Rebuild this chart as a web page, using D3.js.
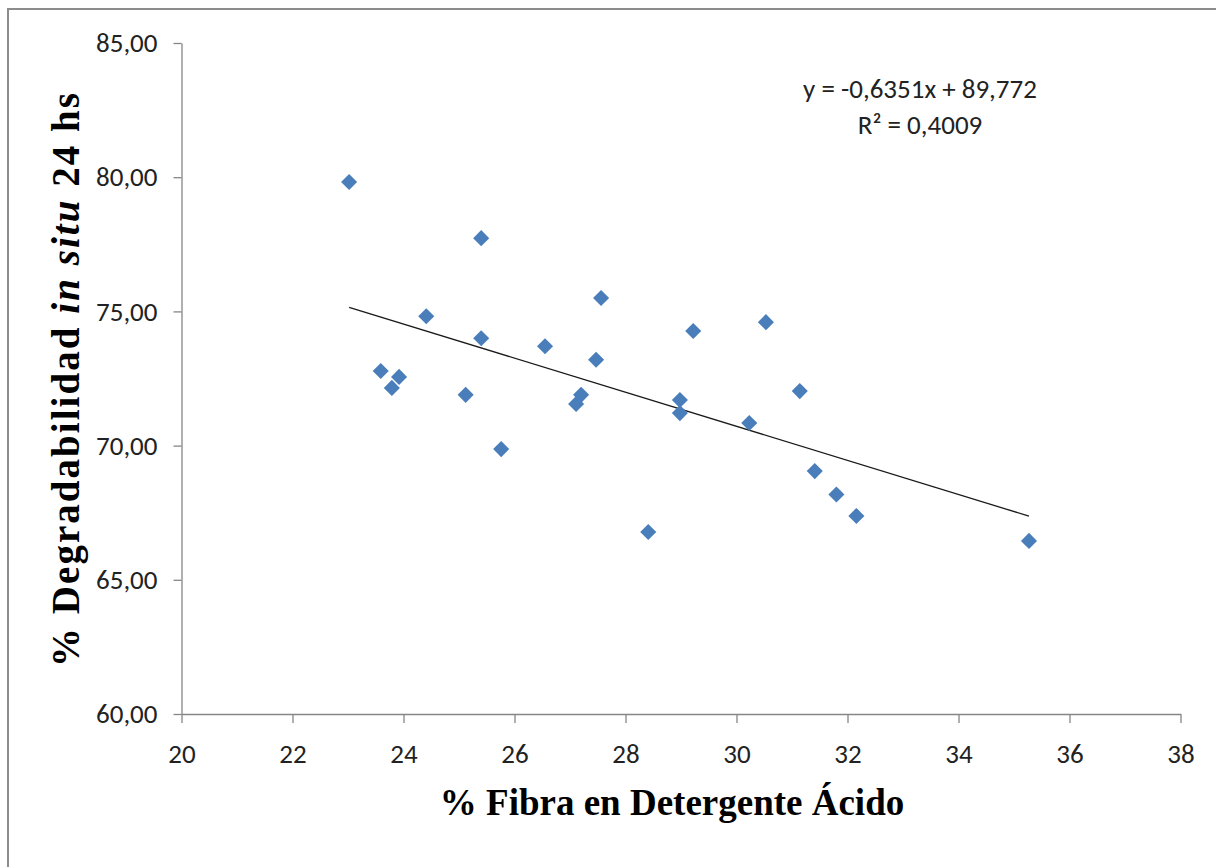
<!DOCTYPE html>
<html>
<head>
<meta charset="utf-8">
<script src="https://cdn.jsdelivr.net/npm/d3@7"></script>
<style>
  body { margin: 0; background: #fff; }
  svg { display: block; }
</style>
</head>
<body>
<div id="chart"></div>
<script>
// fibra en detergente acido (%) vs degradabilidad in situ 24 hs (%)
let fda = [23.02, 25.40, 27.56, 24.41, 25.40, 26.55, 29.22, 30.53, 27.47, 23.59,
           23.92, 23.79, 25.12, 27.20, 27.11, 28.98, 28.98, 30.23, 31.14, 25.76,
           31.41, 31.80, 32.16, 28.41, 35.27];
let degradabilidad = [79.82, 77.73, 75.50, 74.82, 74.00, 73.70, 74.27, 74.60, 73.20, 72.78,
                      72.56, 72.15, 71.89, 71.89, 71.55, 71.70, 71.21, 70.84, 72.03, 69.87,
                      69.05, 68.18, 67.38, 66.78, 66.45];
let xTicks = [20, 22, 24, 26, 28, 30, 32, 34, 36, 38];
let yTicks = [60, 65, 70, 75, 80, 85];
let slope = -0.6351, intercept = 89.772;
let eqLines = ["y = -0,6351x + 89,772", "R² = 0,4009"];

let width = 1216, height = 867;
let margin = {top: 43, right: 35, bottom: 153, left: 181.5};
let plotW = 1180.5 - margin.left, plotH = 714 - margin.top;

let svg = d3.select("#chart")
    .append("svg")
    .attr("width", width)
    .attr("height", height);

// outer frame
svg.append("rect")
    .attr("x", 8).attr("y", 9)
    .attr("width", width + 20).attr("height", height + 20)
    .attr("fill", "none")
    .attr("stroke", "#8c8c8c")
    .attr("stroke-width", 2);

let g = svg.append("g")
    .attr("transform", `translate(${margin.left}, ${margin.top})`);

let x = d3.scaleLinear().domain([20, 38]).range([0, plotW]);
let y = d3.scaleLinear().domain([60, 85]).range([plotH, 0]);
let fmtY = v => d3.format(".2f")(v).replace(".", ",");

// x axis
let xAxis = g.append("g")
    .attr("transform", `translate(0, ${plotH})`)
    .call(d3.axisBottom(x).tickValues(xTicks).tickSize(9).tickSizeOuter(0).tickPadding(21));

// y axis
let yAxis = g.append("g")
    .call(d3.axisLeft(y).tickValues(yTicks).tickFormat(fmtY).tickSize(8).tickSizeOuter(0).tickPadding(16));

[xAxis, yAxis].forEach(a => {
    a.select(".domain").attr("stroke", "#868686").attr("stroke-width", 1.3);
    a.selectAll(".tick line").attr("stroke", "#868686").attr("stroke-width", 1.3);
    a.selectAll(".tick text")
        .attr("fill", "#222")
        .style("font-family", "Carlito, Lato, sans-serif")
        .style("font-size", "27px");
});

// trend line over the data range
let xMin = d3.min(fda), xMax = d3.max(fda);
g.append("line")
    .attr("x1", x(xMin)).attr("y1", y(slope * xMin + intercept))
    .attr("x2", x(xMax)).attr("y2", y(slope * xMax + intercept))
    .attr("stroke", "#1a1a1a")
    .attr("stroke-width", 1.3);

// points
let diamond = d3.symbol().type(d3.symbolDiamond2).size(165);
g.selectAll(".pt")
    .data(fda.map((d, i) => [d, degradabilidad[i]]))
    .enter().append("path")
    .attr("class", "pt")
    .attr("d", diamond)
    .attr("transform", d => `translate(${x(d[0])}, ${y(d[1])})`)
    .attr("fill", "#4a7ebb");

// equation
svg.selectAll(".eq")
    .data(eqLines)
    .enter().append("text")
    .attr("class", "eq")
    .attr("x", 920)
    .attr("y", (d, i) => 98 + i * 36)
    .attr("text-anchor", "middle")
    .style("font-family", "Carlito, Lato, sans-serif")
    .style("font-size", "27px")
    .attr("fill", "#222")
    .text(d => d);

// x axis title
svg.append("text")
    .attr("x", 672)
    .attr("y", 815)
    .attr("text-anchor", "middle")
    .style("font-family", "'Liberation Serif', 'Times New Roman', serif")
    .style("font-weight", "bold")
    .style("font-size", "37px")
    .text("% Fibra en Detergente Ácido");

// y axis title
let yTitle = svg.append("text")
    .attr("transform", "translate(79, 380) rotate(-90)")
    .attr("text-anchor", "middle")
    .attr("textLength", 574)
    .attr("lengthAdjust", "spacing")
    .style("font-family", "'Liberation Serif', 'Times New Roman', serif")
    .style("font-weight", "bold")
    .style("font-size", "39px");
yTitle.append("tspan").text("% Degradabilidad ");
yTitle.append("tspan").style("font-style", "italic").text("in situ");
yTitle.append("tspan").text(" 24 hs");
</script>
</body>
</html>
